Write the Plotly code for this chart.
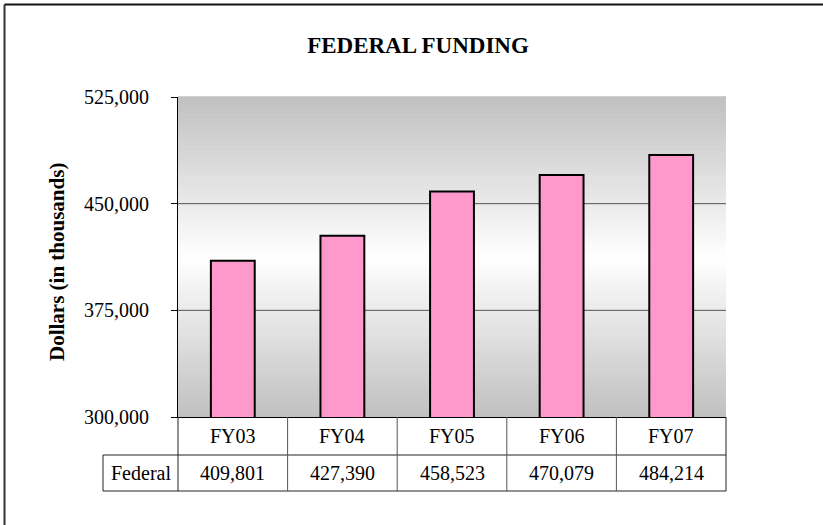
import plotly.graph_objects as go

categories = ["FY03", "FY04", "FY05", "FY06", "FY07"]
federal = [409801, 427390, 458523, 470079, 484214]
y_ticks = [300000, 375000, 450000, 525000]
series_name = "Federal"

W, H = 823, 525
L, R, T, B = 178, 726, 97, 417
PW, PH = R - L, B - T
FONT = "Liberation Serif"


def px_x(x):
    return (x - L) / PW


def px_y(y):
    return (B - y) / PH


fig = go.Figure()
fig.add_trace(go.Bar(
    x=list(range(len(categories))), y=federal, name=series_name,
    marker=dict(color="#ff99cc", line=dict(color="black", width=2)),
    width=0.4,
))

shapes = []
# gradient background (gray edges, white center)
N = 90
for i in range(N):
    t0, t1 = i / N, (i + 1) / N
    tm = (t0 + t1) / 2
    d = abs(tm - 0.5) * 2
    v = int(round(255 - (255 - 192) * d))
    shapes.append(dict(type="rect", xref="paper", yref="paper", x0=0, x1=1,
                       y0=t0, y1=t1 + 0.002, line=dict(width=0),
                       fillcolor=f"rgb({v},{v},{v})", layer="below"))
# interior gridlines
for tv in y_ticks[1:-1]:
    shapes.append(dict(type="line", xref="paper", yref="y", x0=0, x1=1,
                       y0=tv, y1=tv, line=dict(color="#555555", width=1),
                       layer="below"))

# data table
n = len(categories)
row1_top, row1_bot, row2_bot = 417, 455, 491
label_left = 103
lc = "#222222"
shapes.append(dict(type="line", xref="paper", yref="paper", x0=px_x(label_left), x1=1,
                   y0=px_y(row1_bot), y1=px_y(row1_bot), line=dict(color=lc, width=1)))
shapes.append(dict(type="line", xref="paper", yref="paper", x0=px_x(label_left), x1=1,
                   y0=px_y(row2_bot), y1=px_y(row2_bot), line=dict(color=lc, width=1)))
shapes.append(dict(type="line", xref="paper", yref="paper", x0=px_x(label_left), x1=px_x(label_left),
                   y0=px_y(row1_bot), y1=px_y(row2_bot), line=dict(color=lc, width=1)))
for k in range(n + 1):
    xp = k / n
    col = lc if k in (0, n) else "#555555"
    shapes.append(dict(type="line", xref="paper", yref="paper", x0=xp, x1=xp,
                       y0=px_y(row1_top), y1=px_y(row2_bot), line=dict(color=col, width=1)))

# outer chart border (top and left visible)
shapes.append(dict(type="line", xref="paper", yref="paper", x0=px_x(4.5), x1=px_x(W),
                   y0=px_y(4.5), y1=px_y(4.5), line=dict(color="#111111", width=2)))
shapes.append(dict(type="line", xref="paper", yref="paper", x0=px_x(4.5), x1=px_x(4.5),
                   y0=px_y(4.5), y1=px_y(H), line=dict(color="#333333", width=2)))

annotations = []
for i, (c, v) in enumerate(zip(categories, federal)):
    xc = (i + 0.5) / n
    annotations.append(dict(text=c, xref="paper", yref="paper", x=xc,
                            y=px_y((row1_top + row1_bot) / 2), showarrow=False,
                            xanchor="center", yanchor="middle",
                            font=dict(family=FONT, size=20, color="black")))
    annotations.append(dict(text=f"{v:,}", xref="paper", yref="paper", x=xc,
                            y=px_y((row1_bot + row2_bot) / 2), showarrow=False,
                            xanchor="center", yanchor="middle",
                            font=dict(family=FONT, size=20, color="black")))
annotations.append(dict(text=series_name, xref="paper", yref="paper",
                        x=px_x((label_left + L) / 2), y=px_y((row1_bot + row2_bot) / 2),
                        showarrow=False, xanchor="center", yanchor="middle",
                        font=dict(family=FONT, size=20, color="black")))
annotations.append(dict(text="<b>Dollars (in thousands)</b>", xref="paper", yref="paper",
                        x=px_x(57), y=px_y(262), textangle=-90, showarrow=False,
                        xanchor="center", yanchor="middle",
                        font=dict(family=FONT, size=21, color="black")))

fig.update_layout(
    width=W, height=H,
    margin=dict(l=L, r=W - R, t=T, b=H - B, pad=0),
    paper_bgcolor="white", plot_bgcolor="rgba(0,0,0,0)",
    showlegend=False,
    title=dict(text="<b>FEDERAL FUNDING</b>", x=418 / W,
               xref="container", y=1 - 45 / H, yref="container",
               xanchor="center", yanchor="middle",
               font=dict(family=FONT, size=23, color="black")),
    xaxis=dict(range=[-0.5, n - 0.5], showticklabels=False, showgrid=False,
               zeroline=False, showline=True, linecolor="black", linewidth=1,
               ticks="", fixedrange=True),
    yaxis=dict(range=[y_ticks[0], y_ticks[-1]], tickvals=y_ticks,
               ticktext=[f"{t:,}" for t in y_ticks], showgrid=False, zeroline=False,
               showline=True, linecolor="black", linewidth=1,
               ticks="outside", ticklen=6, tickcolor="black",
               ticklabelstandoff=18,
               tickfont=dict(family=FONT, size=20, color="black")),
    shapes=shapes, annotations=annotations,
)

fig.write_html(
    "out.html",
    config={"displayModeBar": False},
    post_script="document.body.style.margin='0';document.body.style.overflow='hidden';",
)
